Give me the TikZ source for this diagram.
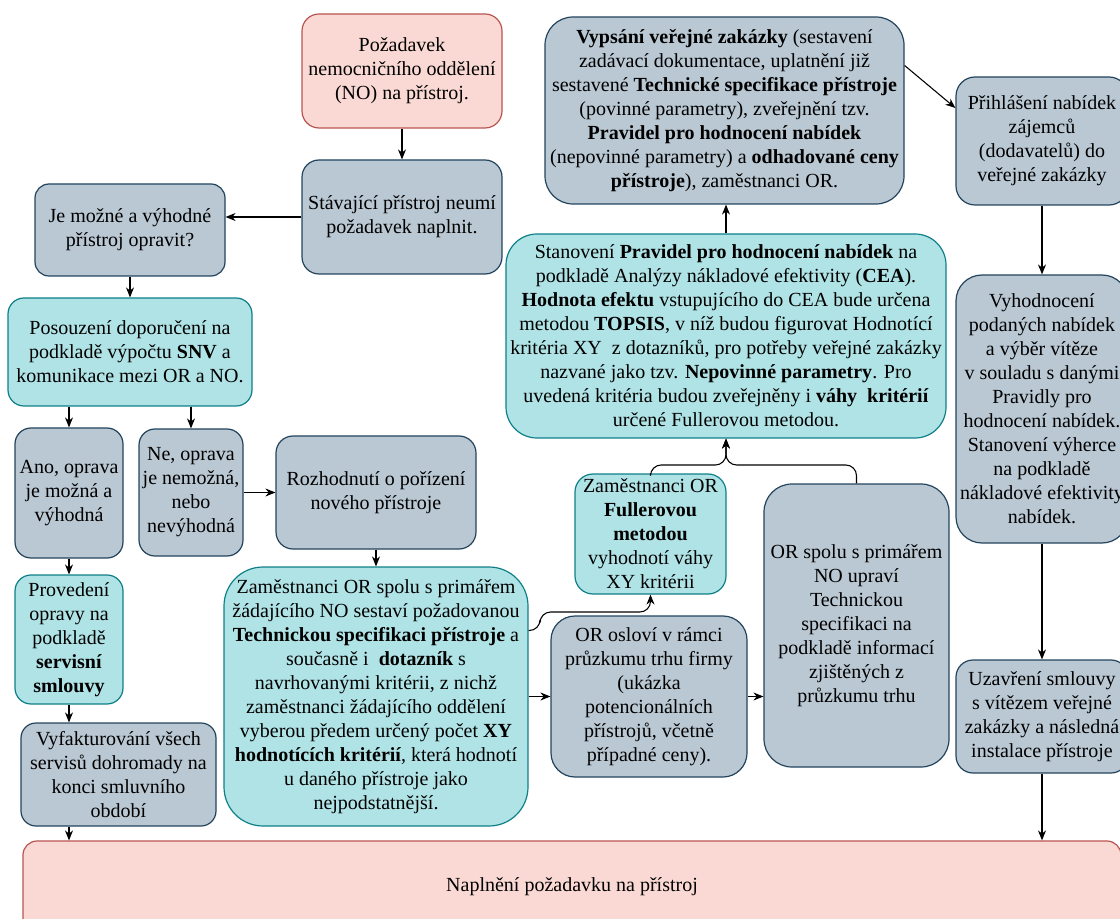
\documentclass[tikz,border=0pt]{standalone}
\usepackage{fontspec}
\setmainfont{Liberation Serif}
\usetikzlibrary{arrows.meta,calc}
\definecolor{gfill}{HTML}{BAC8D3}
\definecolor{gdraw}{HTML}{23445D}
\definecolor{tfill}{HTML}{B0E3E6}
\definecolor{tdraw}{HTML}{0E8088}
\definecolor{rfill}{HTML}{FAD9D5}
\definecolor{rdraw}{HTML}{B85450}
\begin{document}
\begin{tikzpicture}[x=0.75pt,y=-0.75pt,
 base/.style={draw, line width=0.9pt, align=center, inner sep=0pt, font=\fontsize{15}{18}\selectfont},
 graybox/.style={base, fill=gfill, draw=gdraw},
 tealbox/.style={base, fill=tfill, draw=tdraw},
 redbox/.style={base, fill=rfill, draw=rdraw},
 sz/.style n args={3}{minimum width=#1*0.75pt, minimum height=#2*0.75pt, rounded corners=#3*0.75pt},
 arr/.style={-{Stealth[length=7.5pt,width=6pt]}, line width=0.8pt, black},
]
\useasboundingbox (0,0) rectangle (1120,919);
\clip (0,0) rectangle (1120,919);

\node[redbox, sz={200}{114}{17}] (req) at (402,71) {Požadavek\\nemocničního oddělení\\(NO) na přístroj.};
\node[graybox, sz={200}{114}{17}] (stav) at (402,217) {Stávající přístroj neumí\\požadavek naplnit.};
\node[graybox, sz={190}{92}{14}] (jemoz) at (130,230) {Je možné a výhodné\\přístroj opravit?};
\node[tealbox, sz={244}{108}{16}] (posouz) at (130,352) {Posouzení doporučení na\\podkladě výpočtu \textbf{SNV} a\\komunikace mezi OR a NO.};
\node[graybox, sz={108}{130}{16}] (ano) at (69,493) {Ano, oprava\\je možná a\\výhodná};
\node[graybox, sz={104}{127}{16}] (ne) at (191,492.5) {Ne, oprava\\je nemožná,\\nebo\\nevýhodná};
\node[graybox, sz={200}{113}{17}] (rozh) at (376,492.5) {Rozhodnutí o pořízení\\nového přístroje};
\node[tealbox, sz={108}{129}{16}] (prov) at (69,639.5) {Provedení\\opravy na\\podkladě\\\textbf{servisní}\\\textbf{smlouvy}};
\node[graybox, sz={195}{103}{15}] (vyf) at (118.5,774.5) {Vyfakturování všech\\servisů dohromady na\\konci smluvního\\období};
\node[tealbox, sz={304}{259}{39}] (zam) at (376,696.5) {Zaměstnanci OR spolu s primářem\\žádajícího NO sestaví požadovanou\\\textbf{Technickou specifikaci přístroje} a\\současně i\ \ \textbf{dotazník} s\\navrhovanými kritérii, z nichž\\zaměstnanci žádajícího oddělení\\vyberou předem určený počet \textbf{XY}\\\textbf{hodnotících kritérií}, která hodnotí\\u daného přístroje jako\\nejpodstatnější.};
\node[tealbox, sz={151}{120}{18}] (full) at (650.5,534) {Zaměstnanci OR\\\textbf{Fullerovou}\\\textbf{metodou}\\vyhodnotí váhy\\XY kritérii};
\node[graybox, sz={196}{161}{24}] (oslovi) at (649,696.5) {OR osloví v rámci\\průzkumu trhu firmy\\(ukázka\\potencionálních\\přístrojů, včetně\\případné ceny).};
\node[graybox, sz={185}{283}{28}] (upravi) at (856.5,625.5) {OR spolu s primářem\\NO upraví\\Technickou\\specifikaci na\\podkladě informací\\zjištěných z\\průzkumu trhu};
\node[tealbox, sz={440}{204}{31}] (stanov) at (726,336) {Stanovení \textbf{Pravidel pro hodnocení nabídek} na\\podkladě Analýzy nákladové efektivity (\textbf{CEA}).\\\textbf{Hodnota efektu} vstupujícího do CEA bude určena\\metodou \textbf{TOPSIS}, v níž budou figurovat Hodnotící\\kritéria XY\ \ z dotazníků, pro potřeby veřejné zakázky\\nazvané jako tzv. \textbf{Nepovinné parametry}. Pro\\uvedená kritéria budou zveřejněny i \textbf{váhy\ \ kritérií}\\určené Fullerovou metodou.};
\node[graybox, sz={359}{187}{28}] (vyps) at (724.5,110.5) {\textbf{Vypsání veřejné zakázky} (sestavení\\zadávací dokumentace, uplatnění již\\sestavené \textbf{Technické specifikace přístroje}\\(povinné parametry), zveřejnění tzv.\\\textbf{Pravidel pro hodnocení nabídek}\\(nepovinné parametry) a \textbf{odhadované ceny}\\\textbf{přístroje}), zaměstnanci OR.};
\node[graybox, sz={172}{128}{19}] (prihl) at (1042,141) {Přihlášení nabídek\\zájemců\\(dodavatelů) do\\veřejné zakázky};
\node[graybox, sz={172}{268}{26}] (vyhod) at (1042,409) {Vyhodnocení\\podaných nabídek\\a výběr vítěze\\v souladu s danými\\Pravidly pro\\hodnocení nabídek.\\Stanovení výherce\\na podkladě\\nákladové efektivity\\nabídek.};
\node[graybox, sz={172}{113}{17}] (uzav) at (1042,716.5) {Uzavření smlouvy\\s vítězem veřejné\\zakázky a následná\\instalace přístroje};
\node[redbox, sz={1098}{92}{14}] (napl) at (572,887) {Naplnění požadavku na přístroj};

\coordinate (k1) at (540,612);
\coordinate (m) at (726,465);

\draw[arr] (req) -- (stav);
\draw[arr] (stav.west) -- (stav.west -| jemoz.east);
\draw[arr] (jemoz) -- (posouz);
\draw[arr] (posouz.south -| ano) -- (ano.north);
\draw[arr] (posouz.south -| ne) -- (ne.north);
\draw[arr] (ne.east) -- (ne.east -| rozh.west);
\draw[arr] (rozh) -- (zam);
\draw[arr] (ano) -- (prov);
\draw[arr] (prov.south) -- (prov.south |- vyf.north);
\draw[arr] (prov.south |- vyf.south) -- (prov.south |- napl.north);
\draw[arr] (zam.east |- oslovi) -- (oslovi.west);
\draw[arr, rounded corners=8] ($(zam.east)+(0,-66)$) -| (k1) -- (k1 -| full.south) -- (full.south);
\draw[arr] (oslovi.east) -- (oslovi.east -| upravi.west);
\draw[arr, rounded corners=8] (full.north) |- (m) -- (m |- stanov.south);
\draw[arr, rounded corners=8] (upravi.north) |- (m) -- (m |- stanov.south);
\draw[arr] (stanov.north) -- (stanov.north |- vyps.south);
\draw[arr] ($(vyps.east)+(0,-45)$) -- ($(prihl.west)+(0,-33)$);
\draw[arr] (prihl) -- (vyhod);
\draw[arr] (vyhod) -- (uzav);
\draw[arr] (uzav.south) -- (uzav.south |- napl.north);
\end{tikzpicture}
\end{document}
